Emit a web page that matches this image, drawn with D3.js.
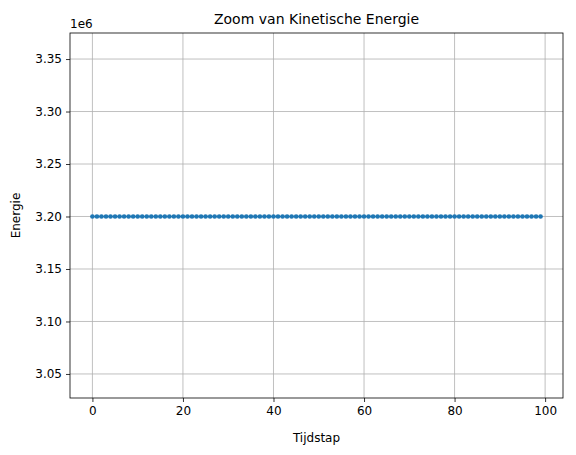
<!DOCTYPE html>
<html>
<head>
<meta charset="utf-8">
<script src="https://cdn.jsdelivr.net/npm/d3@7"></script>
<style>
  body { margin: 0; background: #fff; }
  text { font-family: "DejaVu Sans", sans-serif; }
</style>
</head>
<body>
<div id="chart"></div>
<script>
// Tijdstappen 0..99
const steps = [
  0,1,2,3,4,5,6,7,8,9,10,11,12,13,14,15,16,17,18,19,
  20,21,22,23,24,25,26,27,28,29,30,31,32,33,34,35,36,37,38,39,
  40,41,42,43,44,45,46,47,48,49,50,51,52,53,54,55,56,57,58,59,
  60,61,62,63,64,65,66,67,68,69,70,71,72,73,74,75,76,77,78,79,
  80,81,82,83,84,85,86,87,88,89,90,91,92,93,94,95,96,97,98,99
];
// kinetische energie per stap (leest constant af)
const energy = [
  3200000,3200000,3200000,3200000,3200000,3200000,3200000,3200000,3200000,3200000,
  3200000,3200000,3200000,3200000,3200000,3200000,3200000,3200000,3200000,3200000,
  3200000,3200000,3200000,3200000,3200000,3200000,3200000,3200000,3200000,3200000,
  3200000,3200000,3200000,3200000,3200000,3200000,3200000,3200000,3200000,3200000,
  3200000,3200000,3200000,3200000,3200000,3200000,3200000,3200000,3200000,3200000,
  3200000,3200000,3200000,3200000,3200000,3200000,3200000,3200000,3200000,3200000,
  3200000,3200000,3200000,3200000,3200000,3200000,3200000,3200000,3200000,3200000,
  3200000,3200000,3200000,3200000,3200000,3200000,3200000,3200000,3200000,3200000,
  3200000,3200000,3200000,3200000,3200000,3200000,3200000,3200000,3200000,3200000,
  3200000,3200000,3200000,3200000,3200000,3200000,3200000,3200000,3200000,3200000
];
const xTicks = [0, 20, 40, 60, 80, 100];
const yTicks = [3.05, 3.10, 3.15, 3.20, 3.25, 3.30, 3.35];

const width = 576, height = 455;
const m = { left: 70, right: 13, top: 33, bottom: 57 };

const svg = d3.select("#chart").append("svg")
    .attr("width", width).attr("height", height);

const x = d3.scaleLinear().domain([-4.95, 103.95]).range([m.left, width - m.right]);
const y = d3.scaleLinear().domain([3.0271, 3.3748]).range([height - m.bottom, m.top]);

// grid
svg.append("g").selectAll("line").data(xTicks).enter().append("line")
    .attr("x1", d => x(d)).attr("x2", d => x(d))
    .attr("y1", m.top).attr("y2", height - m.bottom)
    .attr("stroke", "#b0b0b0").attr("stroke-width", 0.8);
svg.append("g").selectAll("line").data(yTicks).enter().append("line")
    .attr("y1", d => y(d)).attr("y2", d => y(d))
    .attr("x1", m.left).attr("x2", width - m.right)
    .attr("stroke", "#b0b0b0").attr("stroke-width", 0.8);

// axes
const xAxis = svg.append("g")
    .attr("transform", `translate(0,${height - m.bottom})`)
    .call(d3.axisBottom(x).tickValues(xTicks).tickSize(4).tickPadding(4).tickFormat(d3.format("d")));
const yAxis = svg.append("g")
    .attr("transform", `translate(${m.left},0)`)
    .call(d3.axisLeft(y).tickValues(yTicks).tickSize(4).tickPadding(4).tickFormat(d3.format(".2f")));
[xAxis, yAxis].forEach(a => {
    a.select(".domain").remove();
    a.selectAll("text").attr("font-size", 12).attr("fill", "#000")
        .style("font-family", "DejaVu Sans");
    a.selectAll("line").attr("stroke", "#000").attr("stroke-width", 0.8);
});

// frame
svg.append("rect")
    .attr("x", m.left).attr("y", m.top)
    .attr("width", width - m.left - m.right).attr("height", height - m.top - m.bottom)
    .attr("fill", "none").attr("stroke", "#000").attr("stroke-width", 0.8);

// series (in units of 1e6)
const pts = steps.map((s, i) => ({ s, e: energy[i] / 1e6 }));
svg.append("path").datum(pts)
    .attr("d", d3.line().x(d => x(d.s)).y(d => y(d.e)))
    .attr("fill", "none").attr("stroke", "#1f77b4").attr("stroke-width", 1.5);
svg.append("g").selectAll("circle").data(pts).enter().append("circle")
    .attr("cx", d => x(d.s)).attr("cy", d => y(d.e)).attr("r", 2.3)
    .attr("fill", "#1f77b4");

// labels
svg.append("text").attr("x", m.left).attr("y", m.top - 5)
    .attr("font-size", 12).text("1e6");
svg.append("text").attr("x", (m.left + width - m.right) / 2).attr("y", m.top - 9)
    .attr("text-anchor", "middle").attr("font-size", 14).text("Zoom van Kinetische Energie");
svg.append("text").attr("x", (m.left + width - m.right) / 2).attr("y", height - m.bottom + 44)
    .attr("text-anchor", "middle").attr("font-size", 12).text("Tijdstap");
svg.append("text")
    .attr("transform", `translate(20,${(m.top + height - m.bottom) / 2}) rotate(-90)`)
    .attr("text-anchor", "middle").attr("font-size", 12).text("Energie");
</script>
</body>
</html>
